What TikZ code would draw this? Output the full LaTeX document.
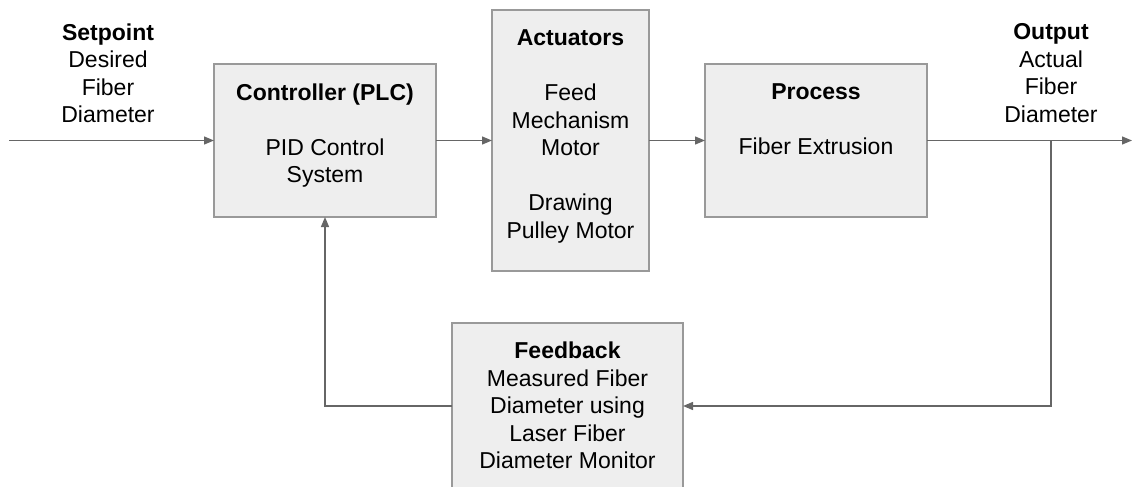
\documentclass[tikz,border=0pt]{standalone}
\usepackage{fontspec}
\setmainfont{Liberation Sans}
\usetikzlibrary{arrows.meta}
\definecolor{boxfill}{HTML}{EEEEEE}
\definecolor{boxline}{HTML}{999999}
\definecolor{wire}{HTML}{666666}
\tikzset{
  block/.style={draw=boxline, fill=boxfill, line width=1.3pt, inner sep=0pt, outer sep=0pt},
  lbl/.style={font=\fontsize{23}{27.5}\selectfont, align=center, inner sep=0pt, anchor=north, text=black},
  link/.style={draw=wire, line width=1.3pt},
  arr/.style={link, -{Triangle[length=10pt,width=8pt]}}
}
\begin{document}
\begin{tikzpicture}[x=1pt, y=-1pt]
\useasboundingbox (0,0) rectangle (1132,487);
\clip (0,0) rectangle (1132,487);

% blocks
\node[block, minimum width=222pt, minimum height=153pt] (ctrl) at (325,140.5) {};
\node[block, minimum width=157pt, minimum height=261pt] (act)  at (570.5,140.5) {};
\node[block, minimum width=222pt, minimum height=153pt] (proc) at (816,140.5) {};
\node[block, minimum width=231pt, minimum height=182pt] (fb)   at (567.5,414) {};

% block texts
\node[lbl] (ctrltxt) at ([yshift=-19.5pt]ctrl.north) {\textbf{Controller (PLC)}\\[27.5pt]PID Control\\System};
\node[lbl] (acttxt) at ([yshift=-19.5pt]act.north) {\textbf{Actuators}\\[27.5pt]Feed\\Mechanism\\Motor\\[27.5pt]Drawing\\Pulley Motor};
\node[lbl] (proctxt) at ([yshift=-19.5pt]proc.north) {\textbf{Process}\\[27.5pt]Fiber Extrusion};
\node[lbl] (fbtxt) at ([yshift=-19pt]fb.north) {\textbf{Feedback}\\Measured Fiber\\Diameter using\\Laser Fiber\\Diameter Monitor};

% signal labels
\node[lbl] (setp) at (108,23.5) {\textbf{Setpoint}\\Desired\\Fiber\\Diameter};
\node[lbl] (outp) at (1051,23.5) {\textbf{Output}\\Actual\\Fiber\\Diameter};

% connector end points
\coordinate (in)  at (9,140.5);
\coordinate (out) at (1132,140.5);
\coordinate (tap) at (1051,140.5);
\coordinate (ret) at (1051,406);
\coordinate (bend) at (325,406);

% forward path
\draw[arr] (in) -- (ctrl.west);
\draw[arr] (ctrl.east) -- (act.west);
\draw[arr] (act.east) -- (proc.west);
\draw[arr] (proc.east) -- (out);

% feedback path
\draw[arr] (tap) -- (ret) -- (fb.east |- ret);
\draw[arr] (fb.west |- ret) -- (bend) -- (ctrl.south);
\end{tikzpicture}
\end{document}
